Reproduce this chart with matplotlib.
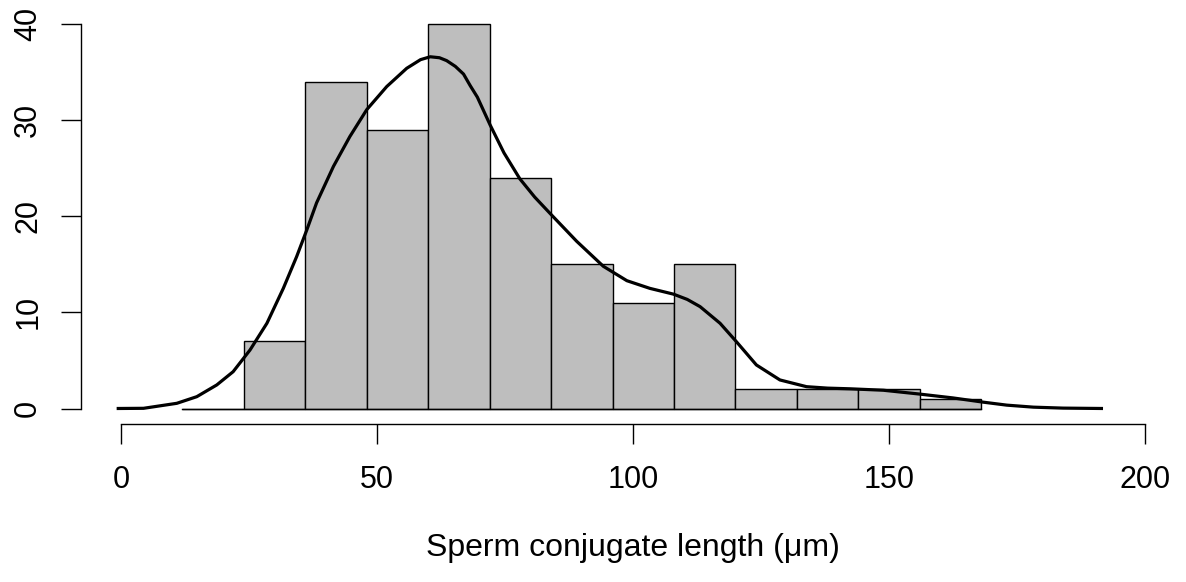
import matplotlib
matplotlib.use("Agg")
import matplotlib.pyplot as plt
from matplotlib.transforms import blended_transform_factory

# Histogram bins (width 12) and counts
bin_edges = [12, 24, 36, 48, 60, 72, 84, 96, 108, 120, 132, 144, 156, 168]
counts = [0, 7, 34, 29, 40, 24, 15, 11, 15, 2, 2, 2, 1]

# Density curve scaled to counts
curve_x = [-0.85, 4.4, 10.9, 14.8, 18.7, 21.9, 25.2, 28.5, 31.7, 34.3, 36.3,
           38.2, 41.5, 44.7, 48.0, 51.9, 55.8, 58.5, 60.4, 62.2, 63.6, 65.3,
           66.9, 68.2, 69.6, 72.1, 74.8, 77.9, 80.8, 83.8, 89.0, 94.2, 98.8,
           103.3, 107.9, 110.6, 113.1, 117.0, 120.2, 124.1, 128.7, 133.9, 138.0,
           142.4, 148.9, 156.0, 162.5, 168.4, 173.0, 178.2, 184.0, 191.8]
curve_y = [0.0, 0.02, 0.54, 1.23, 2.45, 3.83, 6.09, 8.87, 12.5, 15.8, 18.6,
           21.4, 25.2, 28.3, 31.1, 33.5, 35.4, 36.3, 36.6, 36.5, 36.2, 35.6,
           34.8, 33.6, 32.4, 29.5, 26.6, 23.9, 22.0, 20.3, 17.4, 14.8, 13.3,
           12.5, 11.9, 11.35, 10.6, 8.87, 6.95, 4.53, 2.97, 2.27, 2.12,
           2.05, 1.9, 1.5, 1.1, 0.66, 0.35, 0.14, 0.04, 0.0]

x_ticks = [0, 50, 100, 150, 200]
y_ticks = [0, 10, 20, 30, 40]
x_label = "Sperm conjugate length (μm)"

plt.rcParams['font.family'] = ['Liberation Sans', 'DejaVu Sans']

W, H = 1186, 582
fig = plt.figure(figsize=(W / 100, H / 100), dpi=100)
left_px, right_px, top_px, bot_px = 80.5, 1160, 15, 423.5
ax = fig.add_axes([left_px / W, (H - bot_px) / H, (right_px - left_px) / W, (bot_px - top_px) / H])

x0px, sx = 121, 5.12
y0px, sy = 408.5, 9.61
ax.set_xlim((left_px - x0px) / sx, (right_px - x0px) / sx)
ax.set_ylim((y0px - bot_px) / sy, (y0px - top_px) / sy)

widths = [bin_edges[i + 1] - bin_edges[i] for i in range(len(counts))]
ax.bar(bin_edges[:-1], counts, width=widths, align='edge', color='#bebebe',
       edgecolor='black', linewidth=1.0)
ax.plot([bin_edges[0], bin_edges[-1]], [0, 0], color='black', linewidth=1.0)
ax.plot(curve_x, curve_y, color='black', linewidth=2.3, solid_capstyle='butt',
        solid_joinstyle='round')

for s in ['top', 'right']:
    ax.spines[s].set_visible(False)
ax.spines['left'].set_bounds(0, 40)
ax.spines['bottom'].set_bounds(0, 200)
ax.spines['left'].set_linewidth(1.0)
ax.spines['bottom'].set_linewidth(1.0)

ax.set_xticks(x_ticks)
ax.set_xticklabels([str(v) for v in x_ticks])
ax.set_yticks(y_ticks)
ax.set_yticklabels([str(v) for v in y_ticks], rotation=90, va='center')
ax.tick_params(axis='both', direction='out', length=14.4, width=1.0, labelsize=22)
ax.tick_params(axis='x', pad=15.5)
ax.tick_params(axis='y', pad=12.5)

trans = blended_transform_factory(ax.transData, fig.transFigure)
ax.text(100, 1 - 548 / H, x_label, transform=trans, ha='center', va='center',
        fontsize=23, clip_on=False)

fig.savefig("out.png", dpi=100)
